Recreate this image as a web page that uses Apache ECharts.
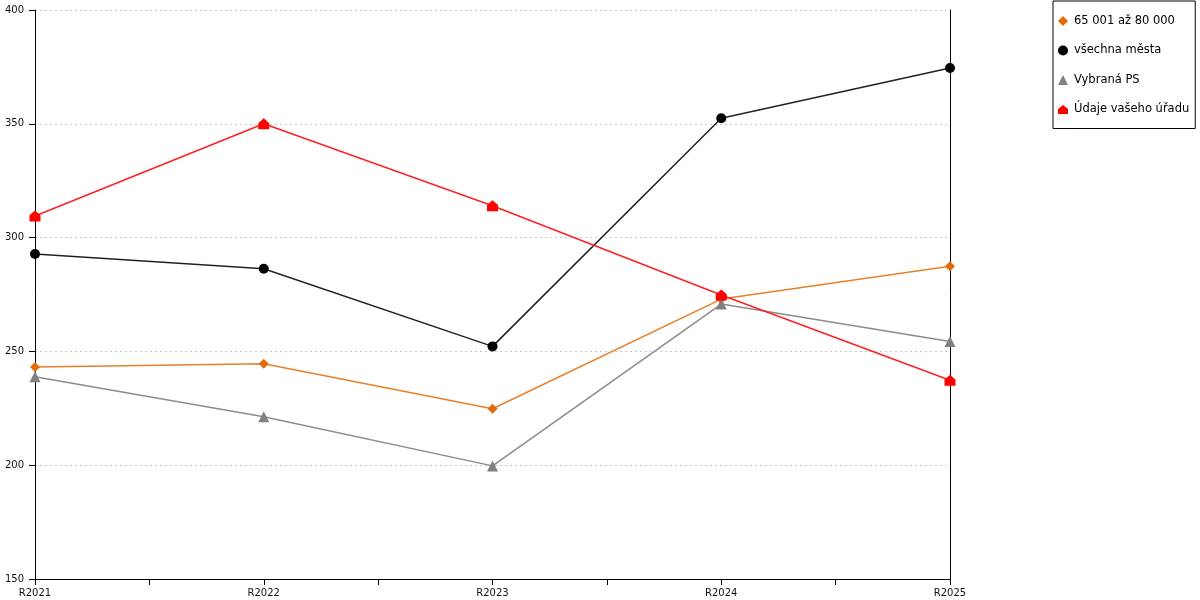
<!DOCTYPE html>
<html>
<head>
<meta charset="utf-8">
<style>
  html, body { margin: 0; padding: 0; background: #fff; }
  #chart { width: 1200px; height: 600px; }
</style>
<script src="https://cdn.jsdelivr.net/npm/echarts@6/dist/echarts.min.js"></script>
</head>
<body>
<div id="chart"></div>
<script>
// kategorie na ose X
const categories = ['R2021', 'R2022', 'R2023', 'R2024', 'R2025'];

// hodnoty jednotlivých řad
const seriesNames = ['65 001 až 80 000', 'všechna města', 'Vybraná PS', 'Údaje vašeho úřadu'];
const valuesSize = [243.2, 244.6, 224.8, 273.0, 287.4];
const valuesAll = [292.8, 286.3, 252.2, 352.4, 374.5];
const valuesPS = [238.9, 221.3, 199.7, 270.8, 254.4];
const valuesOffice = [309.5, 350.0, 314.0, 274.8, 237.3];

const yTicks = { min: 150, max: 400, step: 50 };

const FONT = 'DejaVu Sans';
const houseSymbol = 'path://M0,4 L5,0 L10,4 L10,9 L0,9 Z';

// převod na [index, hodnota] pro hodnotovou osu X
const toPoints = arr => arr.map((v, i) => [i, v]);

function makeSeries(name, values, color, lineColor, symbol, size) {
  return {
    name: name,
    type: 'line',
    data: toPoints(values),
    symbol: symbol,
    symbolSize: size,
    showAllSymbol: true,
    lineStyle: { color: lineColor, width: 1.5 },
    itemStyle: { color: color },
    emphasis: { disabled: true },
    animation: false
  };
}

const chart = echarts.init(document.getElementById('chart'));

chart.setOption({
  backgroundColor: '#fff',
  animation: false,
  textStyle: { fontFamily: FONT },
  grid: { left: 35, right: 250, top: 10, bottom: 21, containLabel: false },
  legend: {
    orient: 'vertical',
    left: 1053,
    top: 1,
    padding: [14, 6, 13, 5],
    itemGap: 17.5,
    itemWidth: 10,
    itemHeight: 10,
    borderColor: '#000',
    borderWidth: 1,
    textStyle: { fontFamily: FONT, fontSize: 11.5, color: '#000', padding: [0, 0, 0, 1] },
    data: [
      { name: seriesNames[0], icon: 'diamond' },
      { name: seriesNames[1], icon: 'circle' },
      { name: seriesNames[2], icon: 'triangle' },
      { name: seriesNames[3], icon: houseSymbol }
    ],
    selectedMode: false
  },
  xAxis: {
    type: 'value',
    min: 0,
    max: categories.length - 1,
    interval: 0.5,
    axisLine: { show: true, lineStyle: { color: '#000', width: 1 } },
    axisTick: { show: true, length: 6, inside: false, lineStyle: { color: '#000' } },
    splitLine: { show: false },
    axisLabel: {
      margin: 9,
      fontFamily: FONT,
      fontSize: 10,
      color: '#111',
      showMinLabel: true,
      showMaxLabel: true,
      formatter: v => (Number.isInteger(v) ? categories[v] : '')
    }
  },
  yAxis: [
    {
      type: 'value',
      min: yTicks.min,
      max: yTicks.max,
      interval: yTicks.step,
      axisLine: { show: true, lineStyle: { color: '#000', width: 1 } },
      axisTick: { show: true, length: 6, lineStyle: { color: '#000' } },
      axisLabel: { margin: 11, fontFamily: FONT, fontSize: 10, color: '#111' },
      splitLine: { show: true, lineStyle: { color: '#c8c8c8', type: [2, 3], width: 1 } }
    },
    {
      type: 'value',
      position: 'right',
      min: yTicks.min,
      max: yTicks.max,
      interval: yTicks.step,
      axisLine: { show: true, onZero: false, lineStyle: { color: '#000', width: 1 } },
      axisTick: { show: false },
      axisLabel: { show: false },
      splitLine: { show: false }
    }
  ],
  series: [
    makeSeries(seriesNames[0], valuesSize, '#E36C0A', '#E8802A', 'diamond', 10),
    makeSeries(seriesNames[1], valuesAll, '#000000', '#222222', 'circle', 10),
    makeSeries(seriesNames[2], valuesPS, '#808080', '#8c8c8c', 'triangle', 11),
    makeSeries(seriesNames[3], valuesOffice, '#FF0000', '#FF2020', houseSymbol, 11)
  ]
});
</script>
</body>
</html>
